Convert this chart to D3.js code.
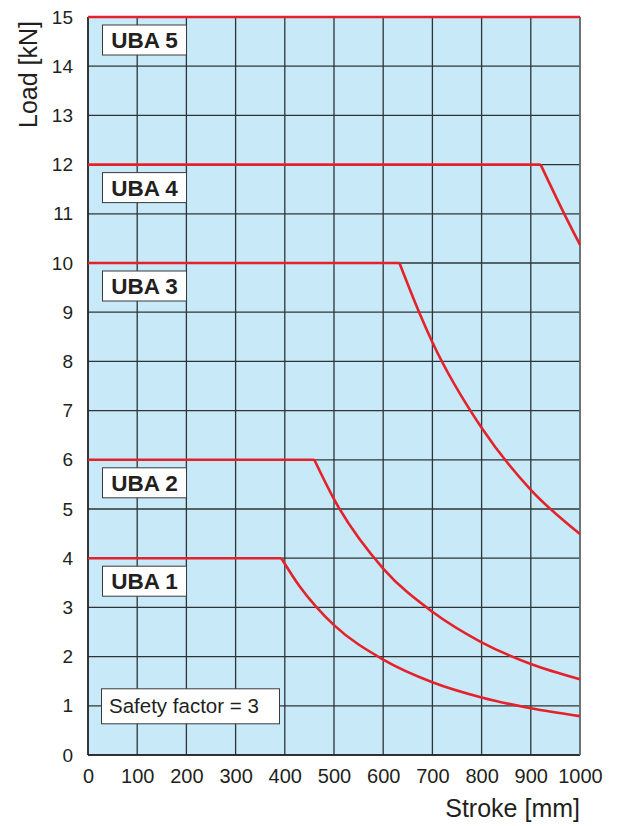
<!DOCTYPE html>
<html>
<head>
<meta charset="utf-8">
<script src="https://cdn.jsdelivr.net/npm/d3@7"></script>
<style>
  body { margin: 0; background: #fff; }
  svg text { font-family: "Liberation Sans", Arial, sans-serif; fill: #231f20; }
</style>
</head>
<body>
<svg id="chart" width="617" height="826"></svg>
<script>
// stroke [mm] / load [kN]
var xTicks = [0, 100, 200, 300, 400, 500, 600, 700, 800, 900, 1000];
var yTicks = [0, 1, 2, 3, 4, 5, 6, 7, 8, 9, 10, 11, 12, 13, 14, 15];

var seriesNames = ["UBA 1", "UBA 2", "UBA 3", "UBA 4", "UBA 5"];
var plateauLoads = [4, 6, 10, 12, 15];
var uba1Curve = [[393, 4], [430, 3.43], [463, 3.02], [500, 2.64], [600, 1.94], [700, 1.48], [800, 1.17], [900, 0.95], [1000, 0.79]];
var uba2Curve = [[460, 6], [500, 5.2], [600, 3.79], [700, 2.91], [800, 2.29], [900, 1.85], [1000, 1.54]];
var uba3Curve = [[633, 10], [673, 9], [700, 8.39], [800, 6.65], [900, 5.39], [1000, 4.49]];
var uba4Curve = [[920, 12], [968, 11], [1000, 10.37]];
var uba5Curve = [[1000, 15], [1000, 15]];
var curves = [uba1Curve, uba2Curve, uba3Curve, uba4Curve, uba5Curve];

var safetyText = "Safety factor = 3";
var safetyLoad = 1;

var svg = d3.select("#chart");
var plotLeft = 88, plotRight = 580, plotTop = 17, plotBottom = 755;

var x = d3.scaleLinear().domain([0, 1000]).range([plotLeft, plotRight]);
var y = d3.scaleLinear().domain([0, 15]).range([plotBottom, plotTop]);

// background
svg.append("rect")
  .attr("x", plotLeft).attr("y", plotTop)
  .attr("width", plotRight - plotLeft).attr("height", plotBottom - plotTop)
  .attr("fill", "#c7e9f8");

// grid
var grid = svg.append("g");
grid.selectAll("line.v").data(xTicks).enter().append("line")
  .attr("x1", function(d) { return x(d); })
  .attr("x2", function(d) { return x(d); })
  .attr("y1", plotTop).attr("y2", plotBottom)
  .attr("stroke", "#2f3436").attr("stroke-width", 1.3);
grid.selectAll("line.h").data(yTicks).enter().append("line")
  .attr("x1", plotLeft).attr("x2", plotRight)
  .attr("y1", function(d) { return y(d); })
  .attr("y2", function(d) { return y(d); })
  .attr("stroke", "#2f3436").attr("stroke-width", 1.3);

// axes, drawn without domain / tick marks
var xAxis = svg.append("g")
  .attr("transform", "translate(0," + plotBottom + ")")
  .call(d3.axisBottom(x).tickValues(xTicks).tickFormat(d3.format("d")).tickSize(0).tickPadding(14));
var yAxis = svg.append("g")
  .attr("transform", "translate(" + plotLeft + ",0)")
  .call(d3.axisLeft(y).tickValues(yTicks).tickFormat(d3.format("d")).tickSize(0).tickPadding(15));
xAxis.select(".domain").remove();
yAxis.select(".domain").remove();
xAxis.selectAll("text").attr("font-size", 20).attr("fill", "#231f20")
  .attr("font-family", "Liberation Sans, Arial, sans-serif");
yAxis.selectAll("text").attr("font-size", 19).attr("fill", "#231f20")
  .attr("font-family", "Liberation Sans, Arial, sans-serif");

// left / bottom frame
svg.append("line").attr("x1", plotLeft).attr("x2", plotLeft).attr("y1", plotTop).attr("y2", plotBottom)
  .attr("stroke", "#231f20").attr("stroke-width", 1.5);
svg.append("line").attr("x1", plotLeft).attr("x2", plotRight).attr("y1", plotBottom).attr("y2", plotBottom)
  .attr("stroke", "#231f20").attr("stroke-width", 1.5);
svg.append("line").attr("x1", plotRight).attr("x2", plotRight).attr("y1", plotTop).attr("y2", plotBottom)
  .attr("stroke", "#6b7377").attr("stroke-width", 1.5);

// curves: flat plateau then falling part
var flat = d3.line().x(function(d) { return x(d[0]); }).y(function(d) { return y(d[1]); });
var fall = d3.line().x(function(d) { return x(d[0]); }).y(function(d) { return y(d[1]); })
  .curve(d3.curveMonotoneX);

var red = "#e42229";
for (var i = 0; i < curves.length; i++)
{
  var c = curves[i];
  svg.append("path")
    .attr("d", flat([[0, plateauLoads[i]], c[0]]))
    .attr("fill", "none").attr("stroke", red).attr("stroke-width", 2.6);
  svg.append("path")
    .attr("d", fall(c))
    .attr("fill", "none").attr("stroke", red).attr("stroke-width", 2.6)
    .attr("stroke-linejoin", "round");
}

// series labels
for (var i = 0; i < seriesNames.length; i++)
{
  var by = y(plateauLoads[i]) + 8;
  svg.append("rect")
    .attr("x", 102.5).attr("y", by)
    .attr("width", 84).attr("height", 30)
    .attr("fill", "#fff").attr("stroke", "#3a3a3a").attr("stroke-width", 1);
  svg.append("text")
    .attr("x", 144.5).attr("y", by + 23)
    .attr("text-anchor", "middle")
    .attr("font-size", 22.5).attr("font-weight", "bold")
    .text(seriesNames[i]);
}

// safety factor note
var sy = y(safetyLoad);
svg.append("rect")
  .attr("x", 101.5).attr("y", sy - 17)
  .attr("width", 178).attr("height", 35)
  .attr("fill", "#fff").attr("stroke", "#3a3a3a").attr("stroke-width", 1);
svg.append("text")
  .attr("x", 109).attr("y", sy + 7.5)
  .attr("font-size", 20.5)
  .text(safetyText);

// axis titles
svg.append("text")
  .attr("x", 580).attr("y", 817)
  .attr("text-anchor", "end")
  .attr("font-size", 25)
  .text("Stroke [mm]");
svg.append("text")
  .attr("transform", "translate(37,21) rotate(-90)")
  .attr("text-anchor", "end")
  .attr("font-size", 25)
  .text("Load [kN]");
</script>
</body>
</html>
